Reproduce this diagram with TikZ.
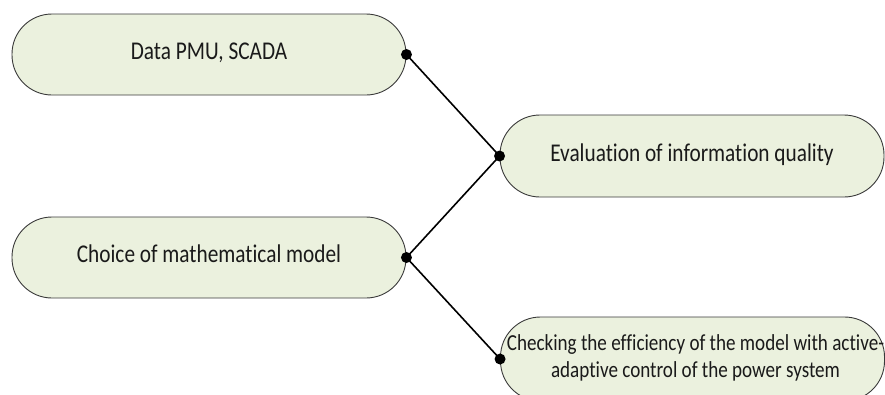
\documentclass[tikz,border=0pt]{standalone}
\usepackage{fontspec}
\setmainfont{Carlito}[Ligatures=NoCommon]
\definecolor{boxfill}{HTML}{EBF1DE}
\definecolor{boxline}{HTML}{3A3A3A}
\definecolor{txt}{HTML}{1A1A1A}
\newcommand{\tallt}[1]{\scalebox{1}[1.2]{\begin{tabular}{@{}c@{}}#1\end{tabular}}}
\begin{document}
\begin{tikzpicture}[x=1pt,y=-1pt,
  pill/.style={draw=boxline,line width=0.9pt,fill=boxfill,rounded corners=40pt,
    minimum width=394pt,minimum height=81pt,inner sep=0pt,text=txt,
    font=\fontsize{21.3}{22.5}\selectfont},
  link/.style={draw=black,line width=1.6pt},
  dot/.style={fill=black}]
\useasboundingbox (0,0) rectangle (885,394);
\clip (0,0) rectangle (885,394);
\node[pill] (data) at (209,54.5) {\tallt{Data PMU, SCADA}};
\node[pill] (choice) at (209,257.5) {\tallt{Choice of mathematical model}};
\node[pill,minimum width=384pt,minimum height=82pt] (eval) at (692,156) {\tallt{Evaluation of information quality}};
\node[pill,minimum width=384pt,minimum height=84pt,font=\fontsize{19.1}{22.5}\selectfont] (check) at (692.5,359)
  {\hspace*{6pt}\makebox[0pt]{\tallt{Checking the efficiency of the model with active-\\adaptive control of the power system}}};
\draw[link] (data.east) -- (eval.west);
\draw[link] (choice.east) -- (eval.west);
\draw[link] (choice.east) -- (check.west);
\fill[dot] (data.east) circle (5.5pt);
\fill[dot] (choice.east) circle (5.5pt);
\fill[dot] (eval.west) circle (5.5pt);
\fill[dot] (check.west) circle (5.5pt);
\end{tikzpicture}
\end{document}
